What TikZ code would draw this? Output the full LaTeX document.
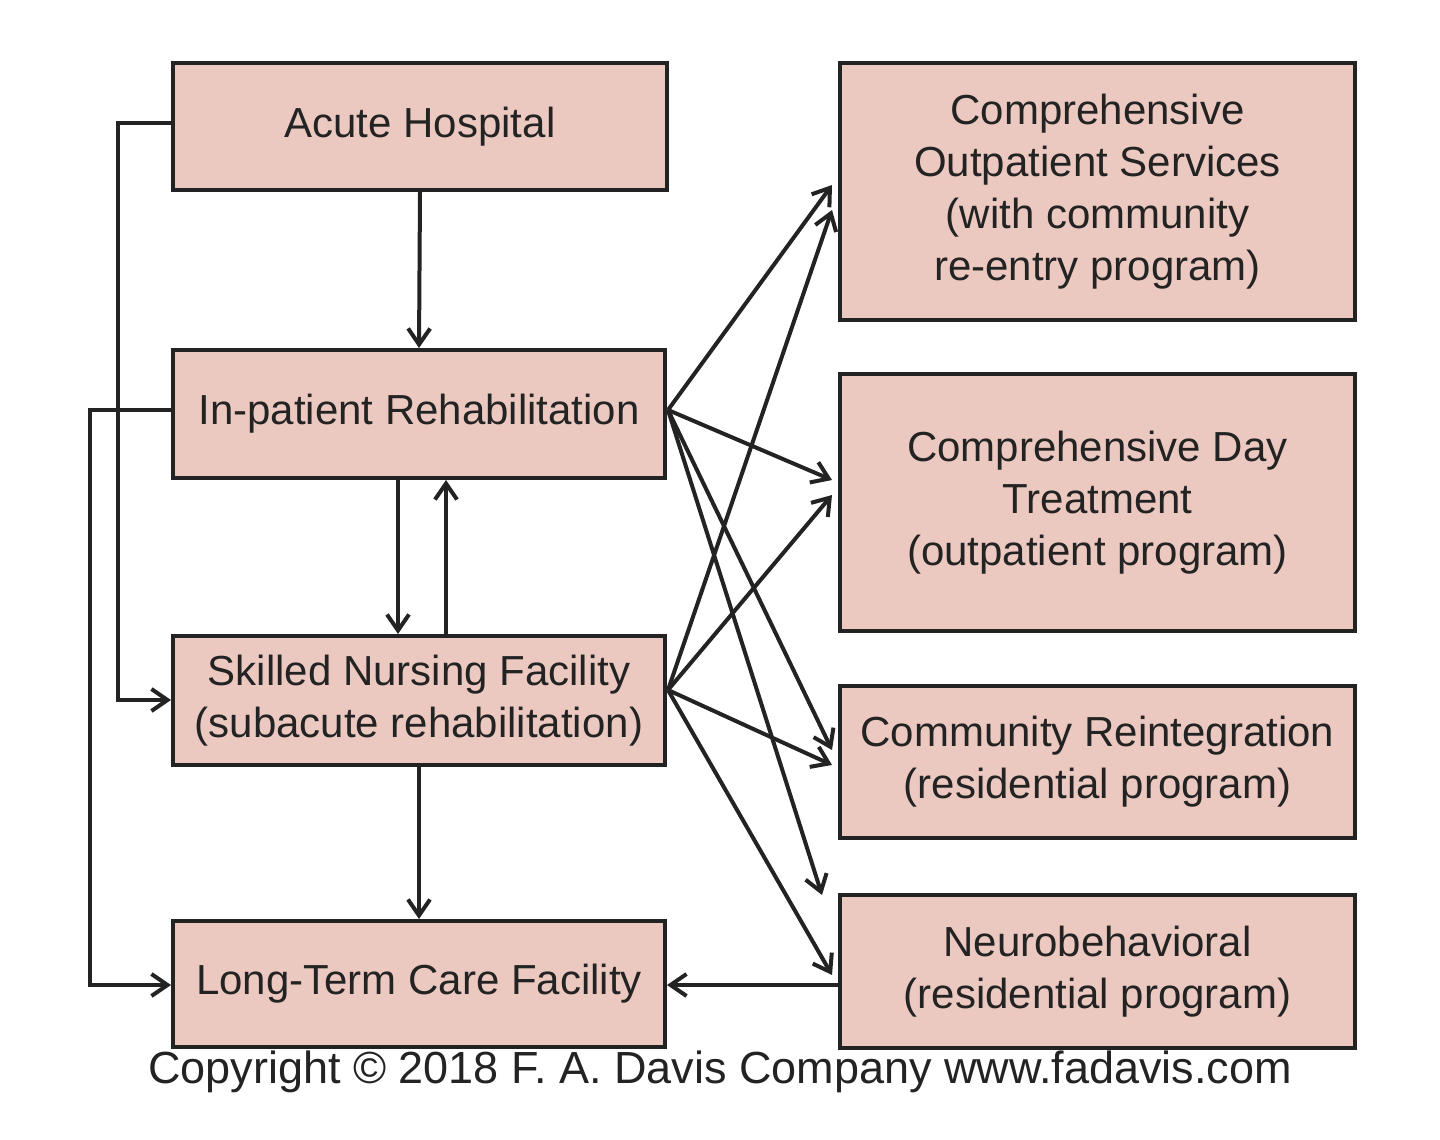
\documentclass[tikz,border=0pt]{standalone}
\usepackage{fontspec}
\setmainfont{Liberation Sans}
\usetikzlibrary{arrows.meta}
\definecolor{boxfill}{RGB}{236,201,192}
\definecolor{ink}{RGB}{35,35,35}
\begin{document}
\begin{tikzpicture}[x=1pt,y=-1pt,
  box/.style={draw=ink,line width=4pt,fill=boxfill,inner sep=0pt,align=center,
    font=\fontsize{42}{52}\selectfont,text=ink},
  arr/.style={draw=ink,line width=4pt,-{Straight Barb[length=16pt,width=22pt]}}]
\useasboundingbox (0,0) rectangle (1440,1140);
\node[box,minimum width=494pt,minimum height=127pt] (ah) at (420,126.5) {Acute Hospital};
\node[box,minimum width=492pt,minimum height=128pt] (ip) at (419,414) {In-patient Rehabilitation};
\node[box,minimum width=492pt,minimum height=129pt] (snf) at (419,700.5) {Skilled Nursing Facility\\(subacute rehabilitation)};
\node[box,minimum width=492pt,minimum height=126pt] (ltc) at (419,984) {Long-Term Care Facility};
\node[box,minimum width=515pt,minimum height=257pt] (cos) at (1097.5,191.5) {Comprehensive\\Outpatient Services\\(with community\\re-entry program)};
\node[box,minimum width=515pt,minimum height=257pt] (cdt) at (1097.5,502.5) {Comprehensive Day\\Treatment\\(outpatient program)};
\node[box,minimum width=515pt,minimum height=152pt] (cr) at (1097.5,762) {Community Reintegration\\(residential program)};
\node[box,minimum width=515pt,minimum height=153pt] (nb) at (1097.5,971.5) {Neurobehavioral\\(residential program)};
\node[font=\fontsize{45}{50}\selectfont,text=ink] (copy) at (720,1072) {Copyright © 2018 F. A. Davis Company www.fadavis.com};
\coordinate (t1) at (832,185); \coordinate (t2) at (832,480); \coordinate (t3) at (832,750); \coordinate (t4) at (822,895);
\coordinate (u1) at (832,210); \coordinate (u2) at (832,495); \coordinate (u3) at (832,765); \coordinate (u4) at (832,975);
\draw[arr] (ah.south) -- (ip.north);
\draw[arr] (ip.south -| 398,0) -- (snf.north -| 398,0);
\draw[arr] (snf.north -| 446,0) -- (ip.south -| 446,0);
\draw[arr] (snf.south) -- (ltc.north);
\draw[arr] (ah.west |- 0,123) -- (118,123) -- (118,700) -- (snf.west |- 0,700);
\draw[arr] (ip.west |- 0,410) -- (90,410) -- (90,985) -- (ltc.west |- 0,985);
\draw[arr] (nb.west |- 0,985) -- (ltc.east |- 0,985);
\foreach \t in {t1,t2,t3,t4} \draw[arr] (668,410) -- (\t);
\foreach \t in {u1,u2,u3,u4} \draw[arr] (668,690) -- (\t);
\end{tikzpicture}
\end{document}
